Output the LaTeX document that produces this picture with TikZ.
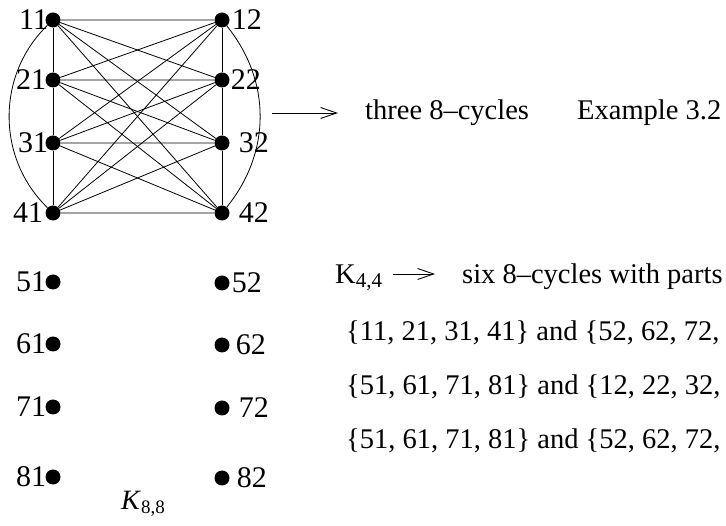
\documentclass[tikz,border=0pt]{standalone}
\usepackage{fontspec}
\setmainfont{Liberation Serif}
\usetikzlibrary{arrows.meta, positioning}
\tikzset{
    % vertex styles
    vertex/.style={
        circle,
        fill=black,
        inner sep=0pt,
        minimum size=15pt
    },
    vlabel/.style={
        inner sep=0pt,
        font=\fontsize{30}{32}\selectfont
    },
    % line styles
    edge/.style={
        line width=0.8pt,
        draw=black
    },
    maparrow/.style={
        -{Straight Barb[length=16pt,width=11pt]},
        line width=0.9pt,
        shorten >=27pt
    },
    % text styles
    note/.style={
        inner sep=0pt,
        anchor=base west,
        font=\fontsize{28.5}{32}\selectfont
    }
}

\begin{document}
\begin{tikzpicture}[x=1pt, y=-1pt]
    \useasboundingbox (0,0) rectangle (726,526);

    % Vertices, left part
    \node[vertex] (v11) at (53,20) {};
    \node[vertex] (v21) at (53,80) {};
    \node[vertex] (v31) at (53,143) {};
    \node[vertex] (v41) at (53,213) {};
    \node[vertex] (v51) at (53,282) {};
    \node[vertex] (v61) at (53,344) {};
    \node[vertex] (v71) at (53,407) {};
    \node[vertex] (v81) at (53,477) {};

    % Vertices, right part
    \node[vertex] (v12) at (222,20) {};
    \node[vertex] (v22) at (222,80) {};
    \node[vertex] (v32) at (222,143) {};
    \node[vertex] (v42) at (222,213) {};
    \node[vertex] (v52) at (222,283) {};
    \node[vertex] (v62) at (222,345) {};
    \node[vertex] (v72) at (222,408) {};
    \node[vertex] (v82) at (222,478) {};

    % Labels
    \node[vlabel, left=-3pt of v11] (l11) {11};
    \node[vlabel, left=-1pt of v21] (l21) {21};
    \node[vlabel, left=-3pt of v31] (l31) {31};
    \node[vlabel, left=2pt of v41] (l41) {41};
    \node[vlabel, left=-1pt of v51] (l51) {51};
    \node[vlabel, left=-1pt of v61] (l61) {61};
    \node[vlabel, left=-1pt of v71] (l71) {71};
    \node[vlabel, left=-1pt of v81] (l81) {81};
    \node[vlabel, right=2pt of v12] (l12) {12};
    \node[vlabel, right=1pt of v22] (l22) {22};
    \node[vlabel, right=9pt of v32] (l32) {32};
    \node[vlabel, right=9pt of v42] (l42) {42};
    \node[vlabel, right=2pt of v52] (l52) {52};
    \node[vlabel, right=6pt of v62] (l62) {62};
    \node[vlabel, right=9pt of v72] (l72) {72};
    \node[vlabel, right=7pt of v82] (l82) {82};

    % Edges between the parts
    \draw[edge] (v11) -- (v12) (v11) -- (v22) (v11) -- (v32) (v11) -- (v42);
    \draw[edge] (v21) -- (v12) (v21) -- (v22) (v21) -- (v32) (v21) -- (v42);
    \draw[edge] (v31) -- (v12) (v31) -- (v22) (v31) -- (v32) (v31) -- (v42);
    \draw[edge] (v41) -- (v12) (v41) -- (v22) (v41) -- (v32) (v41) -- (v42);

    % Cycles inside the parts
    \draw[edge] (v11) -- (v21) -- (v31) -- (v41);
    \draw[edge] (v12) -- (v22) -- (v32) -- (v42);
    \draw[edge] (v11) to[bend right=46] (v41);
    \draw[edge] (v12) to[bend left=39] (v42);

    \node[note, font=\fontsize{28}{30}\selectfont] (k88) at (121,510)
        {\textit{K}\raisebox{-4pt}{\fontsize{19}{19}\selectfont 8,8}};

    % Decomposition
    \coordinate (a0) at (272,113);
    \node[note] (three) at (365,120) {three 8–cycles};
    \node[note] (example) at (577,120) {Example 3.2};
    \draw[maparrow] (a0) -- (a0 -| three.west);

    \node[note] (k44) at (335,284) {K\raisebox{-4pt}{\fontsize{21}{21}\selectfont 4,4}};
    \coordinate (a1) at (393,274);
    \node[note] (six) at (462,284) {six 8–cycles with parts};
    \draw[maparrow] (a1) -- (a1 -| six.west);

    \node[note] (p1) at (346,341) {\{11, 21, 31, 41\} and \{52, 62, 72,};
    \node[note] (p2) at (346,395) {\{51, 61, 71, 81\} and \{12, 22, 32,};
    \node[note] (p3) at (346,449) {\{51, 61, 71, 81\} and \{52, 62, 72,};
\end{tikzpicture}
\end{document}
